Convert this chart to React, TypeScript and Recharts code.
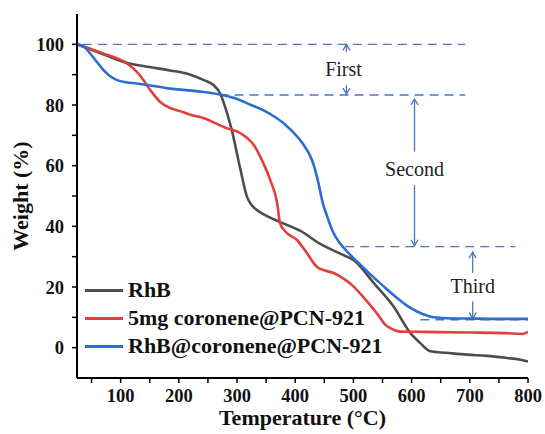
import React from 'react';
import { LineChart, Line, XAxis, YAxis, ReferenceLine, ReferenceDot, Legend, Label } from 'recharts';

// temperature (°C) / weight (%)
const rhbTemp = [25, 60, 105, 150, 185, 220, 243, 260, 271, 283, 291, 306, 317, 325, 334, 350, 374, 409, 443, 483, 500, 535, 569, 598, 615, 632, 660, 695, 730, 764, 785, 800];
const rhbWeight = [100, 97.5, 94.2, 92.5, 91.4, 90, 88.2, 86.5, 83.8, 77.2, 71.7, 58.6, 49.8, 47, 45.4, 43.5, 41.4, 38.5, 34.2, 30.5, 28.9, 21.3, 13.6, 4.8, 1.5, -1.2, -1.7, -2.3, -2.7, -3.4, -3.9, -4.6];

const pcnTemp = [25, 71, 111, 128, 140, 151, 168, 185, 197, 220, 243, 283, 300, 317, 330, 340, 357, 369, 374, 383, 403, 420, 437, 450, 466, 485, 500, 520, 540, 555, 569, 580, 620, 700, 760, 790, 800];
const pcnWeight = [100, 96.9, 93.7, 90.9, 88, 84.9, 81, 79, 78.3, 76.8, 75.6, 72.3, 71.3, 69.2, 66.5, 62.9, 55.3, 47.6, 41, 38.3, 35.5, 31.2, 26.7, 25.5, 24.6, 22.5, 20.2, 16, 11.4, 7.5, 5.9, 5.3, 5.2, 5, 4.8, 4.5, 5.2];

const mixTemp = [25, 35, 48, 60, 71, 82, 94, 110, 128, 185, 243, 277, 300, 323, 345, 363, 380, 395, 414, 429, 440, 446, 455, 466, 477, 492, 506, 530, 552, 575, 598, 620, 638, 660, 700, 750, 800];
const mixWeight = [100, 99.5, 96.9, 94, 91.4, 89.5, 88.2, 87.5, 87.1, 85.4, 84.3, 83.2, 82, 80.1, 78.3, 76.3, 74, 71.3, 67, 61.8, 54.2, 48.7, 43.2, 37.7, 34.4, 31.1, 28.4, 24, 20.2, 16.4, 13.1, 11, 10, 9.7, 9.6, 9.5, 9.5];

const seriesNames = ['RhB', '5mg coronene@PCN-921', 'RhB@coronene@PCN-921'];
const seriesColors = ['#4d4d4d', '#e1403e', '#2a6dd3'];

const xTicks = [50, 100, 150, 200, 250, 300, 350, 400, 450, 500, 550, 600, 650, 700, 750, 800];
const yTicks = [0, 10, 20, 30, 40, 50, 60, 70, 80, 90, 100];

// dashed stage guides
const guideLevel = [100, 83.3, 33.3, 9.2];
const guideStart = [35, 270, 486, 615];
const guideEnd = [692, 692, 778, 800];

// stage arrows (head at "to")
const arrowX = [488, 488, 605, 605, 705, 705];
const arrowFrom = [97.4, 86.5, 64.6, 53.6, 24.6, 15.2];
const arrowTo = [100, 83.6, 82, 33.6, 31.5, 9.6];

const stageText = ['First', 'Second', 'Third'];
const stageX = [483, 605, 705];
const stageY = [92, 58.9, 20.2];

const toPoints = (t: number[], w: number[]) => t.map((x, i) => ({ t: x, w: w[i] }));
const seriesData = [toPoints(rhbTemp, rhbWeight), toPoints(pcnTemp, pcnWeight), toPoints(mixTemp, mixWeight)];

const SERIF = "'Liberation Serif', 'Times New Roman', serif";
const GUIDE = '#4a76c6';

const ArrowShape = (props: any) => {
  const { x1, y1, x2, y2 } = props;
  const dir = y2 < y1 ? -1 : 1;
  const h = 6;
  const w = 3.5;
  return (
    <g>
      <line x1={x1} y1={y1} x2={x2} y2={y2} stroke={GUIDE} strokeWidth={1.3} />
      <polyline
        points={`${x2 - w},${y2 - dir * h} ${x2},${y2} ${x2 + w},${y2 - dir * h}`}
        fill="none"
        stroke={GUIDE}
        strokeWidth={1.3}
      />
    </g>
  );
};

const LegendBox = (props: any) => {
  const items = [...(props.payload || [])].sort(
    (a: any, b: any) => seriesNames.indexOf(a.value) - seriesNames.indexOf(b.value)
  );
  return (
    <div style={{ fontFamily: SERIF, fontWeight: 'bold', fontSize: 22, color: '#111' }}>
      {items.map((p: any) => (
        <div key={p.value} style={{ display: 'flex', alignItems: 'center', height: 28 }}>
          <div style={{ width: 38, height: 3, background: p.color, marginRight: 5 }} />
          <span style={{ whiteSpace: 'nowrap' }}>{p.value}</span>
        </div>
      ))}
    </div>
  );
};

export default function App() {
  const tickStyle = { fontFamily: SERIF, fontWeight: 'bold', fontSize: 18.5, fill: '#111' };
  return (
    <div style={{ position: 'absolute', left: 0, top: 0, width: 545, height: 434, background: '#fff' }}>
      <LineChart width={545} height={434} margin={{ top: 14, right: 17, bottom: 0, left: 0 }}>
        <XAxis
          dataKey="t"
          type="number"
          domain={[25, 800]}
          allowDataOverflow
          ticks={xTicks}
          tickFormatter={(v: number) => (v % 100 === 0 ? String(v) : '')}
          height={56}
          tickSize={5}
          tickMargin={6}
          axisLine={{ stroke: '#000', strokeWidth: 2 }}
          tickLine={{ stroke: '#000', strokeWidth: 1.5 }}
          tick={tickStyle}
        >
          <Label
            value="Temperature (°C)"
            position="insideBottom"
            offset={9}
            style={{ fontFamily: SERIF, fontWeight: 'bold', fontSize: 22, fill: '#111' }}
          />
        </XAxis>
        <XAxis xAxisId="top" orientation="top" type="number" domain={[25, 800]} height={0} tick={false} tickLine={false} axisLine={{ stroke: '#000', strokeWidth: 2 }} />
        <YAxis
          type="number"
          domain={[-10, 110]}
          allowDataOverflow
          ticks={yTicks}
          tickFormatter={(v: number) => (v % 20 === 0 ? String(v) : '')}
          width={77}
          tickSize={5}
          tickMargin={8}
          axisLine={{ stroke: '#000', strokeWidth: 2 }}
          tickLine={{ stroke: '#000', strokeWidth: 1.5 }}
          tick={tickStyle}
        >
          <Label
            content={(p: any) => {
              const vb = p.viewBox || { x: 0, y: 14, height: 364 };
              const cy = vb.y + vb.height / 2;
              return (
                <text
                  transform={`translate(20,${cy}) rotate(-90)`}
                  textAnchor="middle"
                  dominantBaseline="central"
                  style={{ fontFamily: SERIF, fontWeight: 'bold', fontSize: 22, fill: '#111' }}
                >
                  Weight (%)
                </text>
              );
            }}
          />
        </YAxis>
        <YAxis yAxisId="right" orientation="right" type="number" domain={[-10, 110]} width={0} tick={false} tickLine={false} axisLine={{ stroke: '#000', strokeWidth: 2 }} />

        {guideLevel.map((lv, i) => (
          <ReferenceLine
            key={'g' + i}
            segment={[{ x: guideStart[i], y: lv }, { x: guideEnd[i], y: lv }]}
            stroke={GUIDE}
            strokeWidth={1.3}
            strokeDasharray="9 6"
          />
        ))}
        {arrowX.map((x, i) => (
          <ReferenceLine
            key={'a' + i}
            segment={[{ x, y: arrowFrom[i] }, { x, y: arrowTo[i] }]}
            shape={ArrowShape}
          />
        ))}
        {stageText.map((s, i) => (
          <ReferenceDot
            key={'s' + i}
            x={stageX[i]}
            y={stageY[i]}
            r={0}
            shape={(p: any) => (
              <text
                x={p.cx}
                y={p.cy}
                textAnchor="middle"
                dominantBaseline="central"
                style={{ fontFamily: SERIF, fontSize: 20, fill: '#222' }}
              >
                {s}
              </text>
            )}
          />
        ))}

        {seriesData.map((d, i) => (
          <Line
            key={seriesNames[i]}
            data={d}
            dataKey="w"
            name={seriesNames[i]}
            type="monotone"
            stroke={seriesColors[i]}
            strokeWidth={2.6}
            dot={false}
            isAnimationActive={false}
          />
        ))}

        <Legend
          layout="vertical"
          align="center"
          verticalAlign="middle"
          content={LegendBox}
          wrapperStyle={{ left: 85, top: 276, width: 'auto' }}
        />
      </LineChart>
    </div>
  );
}
